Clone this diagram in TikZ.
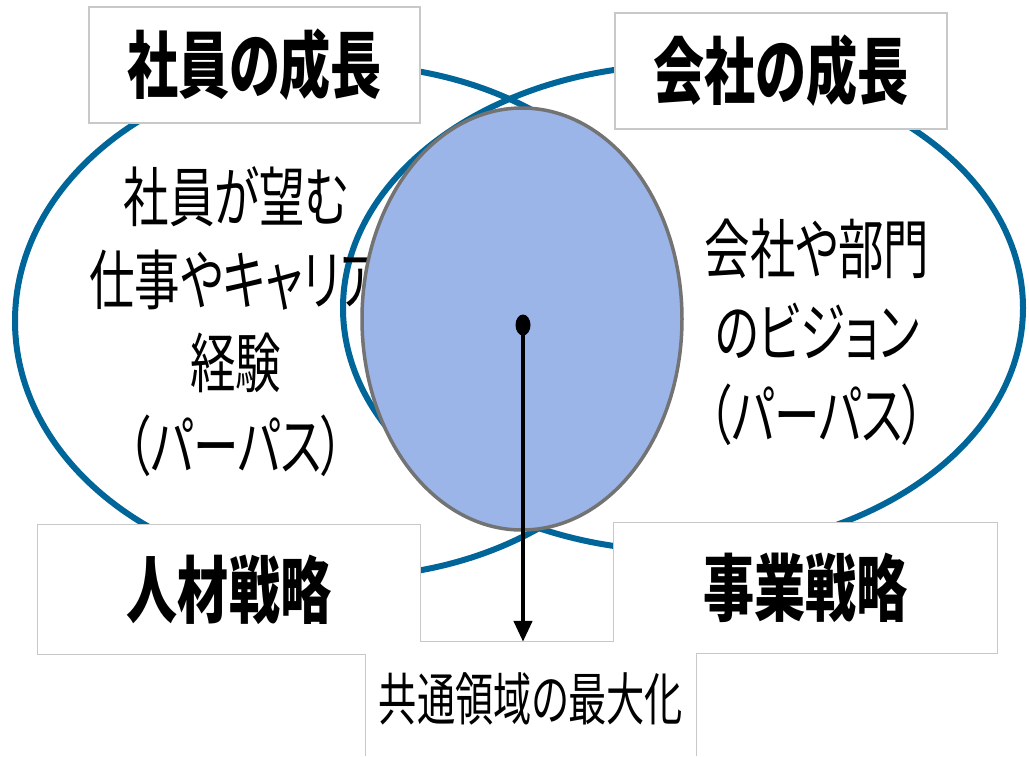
\documentclass[tikz,border=0pt]{standalone}
\usepackage{fontspec}
\newfontfamily\jp[RawFeature=+palt]{Noto Sans CJK JP}
\usetikzlibrary{arrows.meta,shapes.geometric}
\definecolor{ringblue}{HTML}{006699}
\definecolor{coreblue}{HTML}{9BB5E8}
\definecolor{coregray}{HTML}{737373}
\definecolor{boxgray}{HTML}{C8C8C8}
\newcommand\sq[1]{\scalebox{0.7}[1]{#1}}
\tikzset{
  ring/.style={draw=ringblue,line width=6pt},
  titlebox/.style={fill=white,draw=boxgray,line width=1.2pt,inner sep=0pt,
    font=\jp\bfseries\fontsize{73}{80}\selectfont},
  plainbox/.style={fill=white,inner sep=0pt,
    font=\jp\bfseries\fontsize{73}{80}\selectfont},
  sidetext/.style={align=center,inner sep=0pt,font=\jp\fontsize{65}{83}\selectfont},
  boxline/.style={draw=boxgray,line width=1.2pt},
}
\begin{document}
\begin{tikzpicture}[x=1pt,y=-1pt]
\useasboundingbox (0,0) rectangle (1029,756);
\fill[white] (0,0) rectangle (1029,756);
% big rings
\draw[ring] (345,321) ellipse [x radius=330pt, y radius=256pt];
\draw[ring] (683,308) ellipse [x radius=340pt, y radius=243pt];
% side texts
\node[sidetext] (lefttext) at (236,322) {\sq{社員が望む}\\\sq{仕事やキャリア}\\\sq{経験}\\\sq{（パーパス）}};
\node[sidetext] (righttext) at (817,332) {\sq{会社や部門}\\\sq{のビジョン}\\\sq{（パーパス）}};
% core
\node[ellipse,fill=coreblue,draw=coregray,line width=3.5pt,minimum width=320pt,minimum height=422pt,inner sep=0pt] (core) at (522,319) {};
% title boxes
\node[titlebox,minimum width=331pt,minimum height=116pt] (shain) at (254.5,65) {\sq{社員の成長}};
\node[titlebox,minimum width=332pt,minimum height=116pt] (kaisha) at (781,71) {\sq{会社の成長}};
% bottom boxes
\node[fill=white,inner sep=0pt,minimum width=330pt,minimum height=114pt,
  font=\jp\fontsize{57}{64}\selectfont] (kyotsu) at (531,699) {\scalebox{0.67}[1]{共通領域の最大化}};
\node[plainbox,minimum width=382pt,minimum height=129pt] (jinzai) at (229,589.5) {\sq{人材戦略}};
\node[plainbox,minimum width=383pt,minimum height=130pt] (jigyo) at (805.5,588) {\sq{事業戦略}};
\draw[boxline] (kyotsu.south west) -- (kyotsu.west |- jinzai.south) -- (jinzai.south west)
  -- (jinzai.north west) -- (jinzai.north east) -- (jinzai.east |- kyotsu.north)
  -- (jigyo.west |- kyotsu.north) -- (jigyo.north west) -- (jigyo.north east)
  -- (jigyo.south east) -- (kyotsu.east |- jigyo.south) -- (kyotsu.south east);
% dot and arrow
\node[ellipse,fill=black,inner sep=0pt,minimum width=15pt,minimum height=21pt] (dot) at (523,325) {};
\draw[line width=4.5pt,-{Triangle[length=21pt,width=18pt]}] (dot.center) -- (dot.center |- kyotsu.north);
\end{tikzpicture}
\end{document}
